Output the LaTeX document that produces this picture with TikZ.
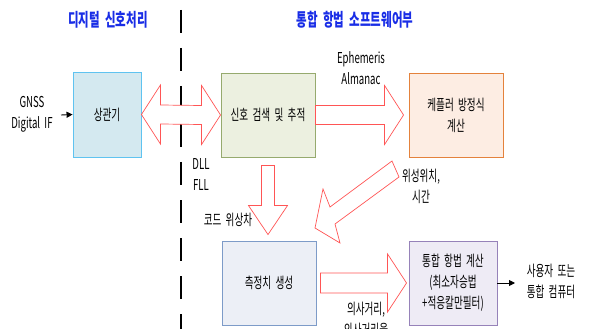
\documentclass[tikz,border=0pt]{standalone}
\usepackage{fontspec}
\setmainfont[FakeStretch=0.64,WordSpace=2]{Noto Sans CJK KR}
\usetikzlibrary{calc,arrows.meta}
\definecolor{ttlblue}{RGB}{25,45,230}
\definecolor{fatred}{RGB}{255,85,85}
\definecolor{corrfill}{RGB}{212,233,240}
\definecolor{corrline}{RGB}{95,195,240}
\definecolor{trackfill}{RGB}{236,240,224}
\definecolor{trackline}{RGB}{150,170,110}
\definecolor{kepfill}{RGB}{253,237,227}
\definecolor{kepline}{RGB}{228,130,60}
\definecolor{measfill}{RGB}{236,239,246}
\definecolor{measline}{RGB}{125,155,200}
\definecolor{intfill}{RGB}{238,235,245}
\definecolor{intline}{RGB}{150,130,185}
\tikzset{
  blk/.style={draw, line width=0.9pt, inner sep=0pt, align=center, font=\fontsize{15}{21}\selectfont},
  lbl/.style={inner sep=0pt, align=center, font=\fontsize{15}{21}\selectfont},
  ttl/.style={inner sep=0pt, text=ttlblue, font=\fontsize{18}{20}\selectfont\bfseries},
  fat/.style={draw=fatred, fill=white, line width=0.7pt, line join=miter},
  thin/.style={line width=0.9pt, -{Triangle[length=6pt,width=6pt]}},
}
\begin{document}
\begin{tikzpicture}[x=1pt,y=-1pt]
\useasboundingbox (0,0) rectangle (590,329);
% divider
\coordinate (dtop) at (181,10);
\coordinate (dbot) at (181,340);
\draw[line width=2pt, dash pattern=on 23pt off 15pt] (dtop) -- (dbot);
% titles
\node[ttl] (t1) at (108,20) {디지털 신호처리};
\node[ttl] (t2) at (355,20) {통합 항법 소프트웨어부};
% blocks
\node[blk, draw=corrline, fill=corrfill, minimum width=68pt, minimum height=85pt] (corr) at (107,114.5) {상관기};
\node[blk, draw=trackline, fill=trackfill, minimum width=94pt, minimum height=84pt] (track) at (268,115) {신호 검색 및 추적};
\node[blk, draw=kepline, fill=kepfill, minimum width=94pt, minimum height=84pt] (kep) at (456,115) {케플러 방정식\\계산};
\node[blk, draw=measline, fill=measfill, minimum width=94pt, minimum height=84pt] (meas) at (269,283) {측정치 생성};
\node[blk, draw=intline, fill=intfill, minimum width=88pt, minimum height=84pt] (integ) at (453,283) {통합 항법 계산\\(최소자승법\\+적응칼만필터)};
% labels
\node[lbl] (gnss) at (32,114) {GNSS\\Digital IF};
\node[lbl] (eph) at (361,68) {Ephemeris\\Almanac};
\node[lbl] (dll) at (201,175) {DLL\\FLL};
\node[lbl] (code) at (228,220) {코드 위상차};
\node[lbl] (satpos) at (421,186) {위성위치,\\시간};
\node[lbl, anchor=north] (pr) at (366,302) {의사거리,\\의사거리율};
\node[lbl] (user) at (551,281) {사용자 또는\\통합 컴퓨터};
% thin arrows
\coordinate (gin) at (61,115);
\draw[thin] (gin) -- (corr.west);
\coordinate (outp) at (515,283);
\draw[thin] (integ.east) -- (outp);
% double fat arrow corr <-> track
\draw[fat] (corr.east) -- ++(19,-29.5) -- ++(0,20) -- ($(track.west)+(-19,-9.5)$) -- ++(0,-20) -- (track.west) -- ++(-19,29.5) -- ++(0,-20) -- ($(corr.east)+(19,9.5)$) -- ++(0,20) -- cycle;
% track -> kepler
\coordinate (kt) at ($(kep.west)+(-5,0)$);
\draw[fat] ($(track.east)+(0,-9.5)$) -- ($(kt)+(-19,-9.5)$) -- ++(0,-20) -- (kt) -- ++(-19,29.5) -- ++(0,-20) -- ($(track.east)+(0,9.5)$) -- cycle;
% track -> meas (down)
\coordinate (dtail) at ($(track.south)+(0,8)$);
\coordinate (dtip) at ($(meas.north)+(-1,-6)$);
\draw[fat] ($(dtail)+(-6.5,0)$) -- ($(dtip)+(-6.5,-29)$) -- ++(-13,0) -- (dtip) -- ++(19.5,-29) -- ++(-13,0) -- ($(dtail)+(6.5,0)$) -- cycle;
% kepler -> meas (diagonal)
\coordinate (gtip) at (315,228);
\draw[fat] (392,161) -- (330,207) -- (323,189) -- (gtip) -- (340,243) -- (335,224) -- (399,177) -- cycle;
% meas -> integ
\coordinate (mtail) at ($(meas.east)+(4,0)$);
\coordinate (mtip) at ($(integ.west)+(-2,0)$);
\draw[fat] ($(mtail)+(0,-10)$) -- ($(mtip)+(-19,-10)$) -- ++(0,-19) -- (mtip) -- ++(-19,29) -- ++(0,-19) -- ($(mtail)+(0,10)$) -- cycle;
\end{tikzpicture}
\end{document}
